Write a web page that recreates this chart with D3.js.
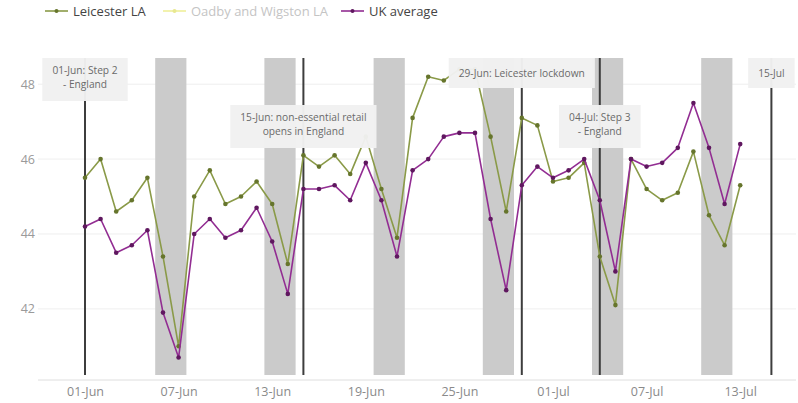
<!DOCTYPE html>
<html><head><meta charset="utf-8">
<script src="https://cdn.jsdelivr.net/npm/d3@7"></script>
<style>body{margin:0;background:#fff}svg{display:block;font-family:"Open Sans",sans-serif}</style>
</head><body><svg id="c" width="798" height="403"></svg>
<script>
const dates = ["2020-06-01","2020-06-02","2020-06-03","2020-06-04","2020-06-05","2020-06-06","2020-06-07","2020-06-08","2020-06-09","2020-06-10","2020-06-11","2020-06-12","2020-06-13","2020-06-14","2020-06-15","2020-06-16","2020-06-17","2020-06-18","2020-06-19","2020-06-20","2020-06-21","2020-06-22","2020-06-23","2020-06-24","2020-06-25","2020-06-26","2020-06-27","2020-06-28","2020-06-29","2020-06-30","2020-07-01","2020-07-02","2020-07-03","2020-07-04","2020-07-05","2020-07-06","2020-07-07","2020-07-08","2020-07-09","2020-07-10","2020-07-11","2020-07-12","2020-07-13"];
const leicester = [45.5,46.0,44.6,44.9,45.5,43.4,41.0,45.0,45.7,44.8,45.0,45.4,44.8,43.2,46.1,45.8,46.1,45.6,46.6,45.2,43.9,47.1,48.2,48.1,48.4,48.4,46.6,44.6,47.1,46.9,45.4,45.5,45.9,43.4,42.1,46.0,45.2,44.9,45.1,46.2,44.5,43.7,45.3];
const ukAverage = [44.2,44.4,43.5,43.7,44.1,41.9,40.7,44.0,44.4,43.9,44.1,44.7,43.8,42.4,45.2,45.2,45.3,44.9,45.9,44.9,43.4,45.7,46.0,46.6,46.7,46.7,44.4,42.5,45.3,45.8,45.5,45.7,46.0,44.9,43.0,46.0,45.8,45.9,46.3,47.5,46.3,44.8,46.4];
const seriesNames = ["Leicester LA","Oadby and Wigston LA","UK average"];
const weekends = [["2020-06-06","2020-06-07"],["2020-06-13","2020-06-14"],["2020-06-20","2020-06-21"],["2020-06-27","2020-06-28"],["2020-07-04","2020-07-05"],["2020-07-11","2020-07-12"]];
const eventDates = ["2020-06-01","2020-06-15","2020-06-29","2020-07-04","2020-07-15"];
const eventLabels = [["01-Jun: Step 2","- England"],["15-Jun: non-essential retail","opens in England"],["29-Jun: Leicester lockdown"],["04-Jul: Step 3","- England"],["15-Jul"]];
const yTicks = [42,44,46,48];
const xTickLabels = ["01-Jun","07-Jun","13-Jun","19-Jun","25-Jun","01-Jul","07-Jul","13-Jul"];

const parse = d3.utcParse("%Y-%m-%d");
const fmt = d3.utcFormat("%d-%b");
const svg = d3.select("#c");
const DAY = 86400000;
const x = d3.scaleUtc().domain([parse("2020-06-01"), parse("2020-07-13")]).range([85, 740.2]);
const y = d3.scaleLinear().domain([40.1, 48.7]).range([380, 58]);
const plotTop = 58, plotBot = 375, axL = 38, axR = 796;

// grid
svg.append("g").selectAll("line").data(yTicks).join("line")
  .attr("x1", axL).attr("x2", axR).attr("y1", d=>y(d)).attr("y2", d=>y(d))
  .attr("stroke", "#efefef").attr("stroke-width", 1);
svg.append("g").selectAll("text").data(yTicks).join("text")
  .attr("x", 35).attr("y", d=>y(d)+4.5).attr("text-anchor","end")
  .attr("fill","#9a9a9a").attr("font-size",12.5).text(d=>d);

// weekend bands
svg.append("g").selectAll("rect").data(weekends).join("rect")
  .attr("x", d=>x(new Date(+parse(d[0]) - DAY/2)))
  .attr("width", d=>x(new Date(+parse(d[1]) + DAY/2)) - x(new Date(+parse(d[0]) - DAY/2)))
  .attr("y", plotTop).attr("height", plotBot-plotTop).attr("fill","#cbcbcb");

// x axis
svg.append("line").attr("x1",axL).attr("x2",axR).attr("y1",380).attr("y2",380).attr("stroke","#dedede");
const xAxis = d3.axisBottom(x).tickValues(xTickLabels.map(s=>d3.utcParse("%d-%b-%Y")(s+"-2020"))).tickFormat(fmt).tickSize(0).tickPadding(0);
const gx = svg.append("g").attr("transform","translate(0,381)").call(xAxis);
gx.select(".domain").remove();
gx.selectAll("text").attr("font-size",12.5).attr("fill","#8a8a8a").attr("font-family","Open Sans, sans-serif").attr("dy","15");

// event lines
svg.append("g").selectAll("line").data(eventDates).join("line")
  .attr("x1", d=>x(parse(d))).attr("x2", d=>x(parse(d)))
  .attr("y1", plotTop).attr("y2", plotBot).attr("stroke","#3d3d3d").attr("stroke-width",2);

// series
const series = [
  {vals: leicester, color: "#8a9a48", mark: "#66752c"},
  {vals: ukAverage, color: "#922d92", mark: "#5f175f"}
];
const line = d3.line().x((d,i)=>x(parse(dates[i]))).y(d=>y(d));
series.forEach(s=>{
  svg.append("path").datum(s.vals).attr("d", line).attr("fill","none")
    .attr("stroke", s.color).attr("stroke-width",1.6).attr("stroke-linejoin","round");
  svg.append("g").selectAll("circle").data(s.vals).join("circle")
    .attr("cx",(d,i)=>x(parse(dates[i]))).attr("cy",d=>y(d)).attr("r",2.3).attr("fill",s.mark);
});

// annotation boxes (drawn on top)
const boxRows = [0,1,0,1,0];
eventDates.forEach((d,i)=>{
  const cx = x(parse(d));
  const lines = eventLabels[i];
  const top = boxRows[i] ? 105 : 58;
  const h = lines.length === 1 ? 30 : 43;
  const g = svg.append("g");
  const rect = g.append("rect").attr("fill","#f1f1f1").attr("fill-opacity",0.97);
  const t = g.append("text").attr("text-anchor","middle").attr("font-size",10.2).attr("fill","#6a6a6a");
  lines.forEach((l,j)=>{
    t.append("tspan").attr("x",cx).attr("y", top + (lines.length===1 ? 19 : 16 + j*14)).text(l);
  });
  const bb = t.node().getBBox();
  const w = bb.width + 20;
  rect.attr("x", cx - w/2).attr("y", top).attr("width", w).attr("height", h);
});

// legend
const leg = svg.append("g").attr("transform","translate(0,11)");
const legItems = [
  {x:45, color:"#8a9a48", mark:"#66752c", text:"#444", name:seriesNames[0]},
  {x:163, color:"#efef9a", mark:"#e8e890", text:"#c4c4c4", name:seriesNames[1]},
  {x:341, color:"#922d92", mark:"#5f175f", text:"#444", name:seriesNames[2]}
];
legItems.forEach(it=>{
  leg.append("line").attr("x1",it.x).attr("x2",it.x+23).attr("y1",0).attr("y2",0).attr("stroke",it.color).attr("stroke-width",1.6);
  leg.append("circle").attr("cx",it.x+11.5).attr("cy",0).attr("r",2).attr("fill",it.mark);
  leg.append("text").attr("x",it.x+28).attr("y",4.5).attr("font-size",13).attr("fill",it.text).text(it.name);
});
</script></body></html>
